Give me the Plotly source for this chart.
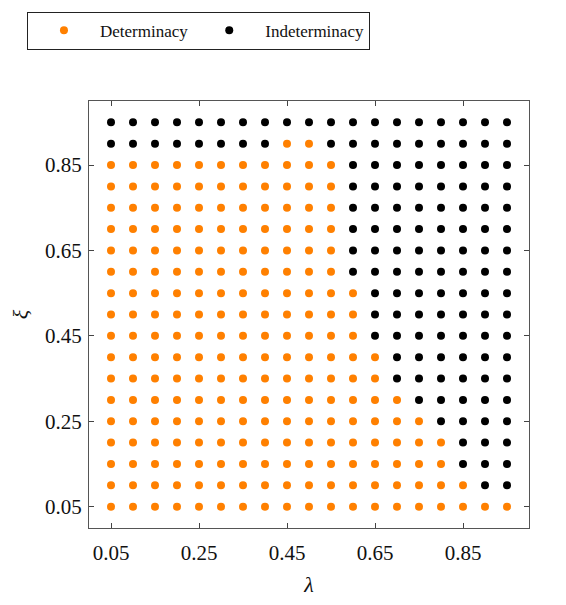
import plotly.graph_objects as go

# Parameter grid
lam = [0.05, 0.10, 0.15, 0.20, 0.25, 0.30, 0.35, 0.40, 0.45, 0.50,
       0.55, 0.60, 0.65, 0.70, 0.75, 0.80, 0.85, 0.90, 0.95]
xi = [0.95, 0.90, 0.85, 0.80, 0.75, 0.70, 0.65, 0.60, 0.55, 0.50,
      0.45, 0.40, 0.35, 0.30, 0.25, 0.20, 0.15, 0.10, 0.05]

# Regime for each (xi, lambda) pair: D = determinacy, I = indeterminacy, U = instability
regime_rows = [
    "IIIIIIIIIIIIIIIIIII",  # 0.95
    "IIIIIIIIDDIIIIIIIII",  # 0.90
    "DDDDDDDDDDDIIIIIIII",  # 0.85
    "DDDDDDDDDDDIIIIIIII",  # 0.80
    "DDDDDDDDDDDIIIIIIII",  # 0.75
    "DDDDDDDDDDDIIIIIIII",  # 0.70
    "DDDDDDDDDDDIIIIIIII",  # 0.65
    "DDDDDDDDDDDIIIIIIII",  # 0.60
    "DDDDDDDDDDDDIIIIIII",  # 0.55
    "DDDDDDDDDDDDIIIIIII",  # 0.50
    "DDDDDDDDDDDDIIIIIII",  # 0.45
    "DDDDDDDDDDDDDIIIIII",  # 0.40
    "DDDDDDDDDDDDDIIIIII",  # 0.35
    "DDDDDDDDDDDDDDIIIII",  # 0.30
    "DDDDDDDDDDDDDDDIIII",  # 0.25
    "DDDDDDDDDDDDDDDDIII",  # 0.20
    "DDDDDDDDDDDDDDDDIII",  # 0.15
    "DDDDDDDDDDDDDDDDDII",  # 0.10
    "DDDDDDDDDDDDDDDDDDD",  # 0.05
]

tick_vals = [0.05, 0.25, 0.45, 0.65, 0.85]

regimes = [("D", "Determinacy", "#FF8000"),
           ("I", "Indeterminacy", "#000000"),
           ("U", "Instability", "#00FF00")]

SERIF = "Liberation Serif"

fig = go.Figure()
for code, name, color in regimes:
    xs, ys = [], []
    for yv, row in zip(xi, regime_rows):
        for xv, c in zip(lam, row):
            if c == code:
                xs.append(xv)
                ys.append(yv)
    fig.add_trace(go.Scatter(
        x=xs, y=ys, mode="markers", name=name,
        marker=dict(color=color, size=8),
    ))

axis_common = dict(
    range=[0, 1],
    tickvals=tick_vals,
    tickformat=".2f",
    ticks="inside",
    ticklen=5,
    tickcolor="#444444",
    showline=True,
    linecolor="#555555",
    linewidth=1,
    mirror="ticks",
    showgrid=False,
    zeroline=False,
)

fig.update_xaxes(
    **axis_common,
    tickfont=dict(family=SERIF, size=21, color="#111111"),
    ticklabelstandoff=6,
    title=dict(text="<i>λ</i>", font=dict(family=SERIF, size=22, color="#111111"),
               standoff=12),
)
fig.update_yaxes(
    **axis_common,
    tickfont=dict(family=SERIF, size=21, color="#111111"),
    ticklabelstandoff=2,
    title=dict(text="<i>ξ</i>", font=dict(family=SERIF, size=22, color="#111111"),
               standoff=10),
)

fig.update_layout(
    width=566,
    height=605,
    margin=dict(l=89, r=37, t=95, b=71),
    paper_bgcolor="white",
    plot_bgcolor="white",
    font=dict(family=SERIF, color="#111111"),
    showlegend=True,
    legend=dict(
        orientation="h",
        x=-0.141, y=1.209,
        xanchor="left", yanchor="top",
        bordercolor="#222222",
        borderwidth=1,
        itemwidth=62,
        font=dict(family=SERIF, size=17, color="#111111"),
        bgcolor="white",
    ),
)

fig.write_html("out.html")
